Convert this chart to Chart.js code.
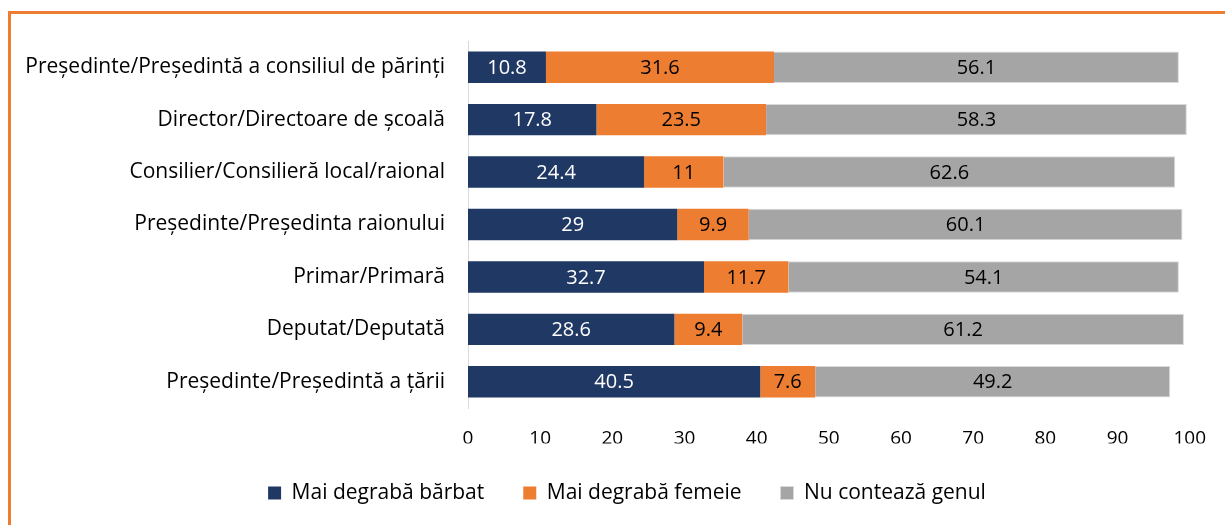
<!DOCTYPE html>
<html><head><meta charset="utf-8">
<script src="https://cdn.jsdelivr.net/npm/chart.js@4/dist/chart.umd.min.js"></script>
<style>
html,body{margin:0;padding:0;background:#fff;overflow:hidden;}
#wrap{position:relative;width:1225px;height:525px;}
#frame{position:absolute;left:8px;top:11px;width:1300px;height:600px;border:3px solid #ED7D31;box-sizing:border-box;}
canvas{position:absolute;left:0;top:0;}
</style></head><body>
<div id="wrap"><div id="frame"></div><canvas id="c" width="1225" height="525"></canvas></div>
<script>
const categories = [
  "Președinte/Președintă a consiliul de părinți",
  "Director/Directoare de școală",
  "Consilier/Consilieră local/raional",
  "Președinte/Președinta raionului",
  "Primar/Primară",
  "Deputat/Deputată",
  "Președinte/Președintă a țării"
];
const seriesNames = ["Mai degrabă bărbat", "Mai degrabă femeie", "Nu contează genul"];
const barbat = [10.8, 17.8, 24.4, 29, 32.7, 28.6, 40.5];
const femeie = [31.6, 23.5, 11, 9.9, 11.7, 9.4, 7.6];
const nuConteaza = [56.1, 58.3, 62.6, 60.1, 54.1, 61.2, 49.2];
const xTicks = [0, 10, 20, 30, 40, 50, 60, 70, 80, 90, 100];

const FONT = "'Open Sans', 'Noto Sans', sans-serif";
const labelColors = ["#FFFFFF", "#000000", "#000000"];

const valueLabels = {
  id: 'valueLabels',
  afterDatasetsDraw(chart) {
    const ctx = chart.ctx;
    ctx.save();
    ctx.font = "20px " + FONT;
    ctx.textAlign = "center";
    ctx.textBaseline = "middle";
    chart.data.datasets.forEach((ds, i) => {
      const meta = chart.getDatasetMeta(i);
      meta.data.forEach((el, j) => {
        const x = (el.x + el.base) / 2;
        ctx.fillStyle = labelColors[i];
        ctx.fillText(String(ds.data[j]), x, el.y + 1);
      });
    });
    ctx.restore();
  }
};

const legendShift = {
  id: 'legendShift',
  afterLayout(chart) {
    if (chart.legend) { chart.legend.left += 32; chart.legend.right += 32; }
  }
};

new Chart(document.getElementById('c'), {
  type: 'bar',
  data: {
    labels: categories,
    datasets: [
      {label: seriesNames[0], data: barbat, backgroundColor: '#203864', borderWidth: 0},
      {label: seriesNames[1], data: femeie, backgroundColor: '#ED7D31', borderWidth: 0},
      {label: seriesNames[2], data: nuConteaza, backgroundColor: '#A5A5A5', borderColor: '#D9D9D9', borderWidth: 1}
    ]
  },
  options: {
    indexAxis: 'y',
    responsive: false,
    animation: false,
    layout: {padding: {top: 41, right: 35, bottom: 11.5, left: 0}},
    datasets: {bar: {barPercentage: 0.6, categoryPercentage: 1.0}},
    scales: {
      x: {
        stacked: true, min: 0, max: 100,
        afterBuildTicks(scale) { scale.ticks = xTicks.map(v => ({value: v})); },
        grid: {display: false, drawTicks: false},
        border: {display: false},
        ticks: {font: {family: FONT, size: 19}, color: '#000', padding: 19, maxRotation: 0},
        afterFit(scale) { scale.height = 35.5; }
      },
      y: {
        stacked: true,
        grid: {display: false, drawTicks: false},
        border: {display: true, color: '#D9D9D9', width: 1},
        ticks: {font: {family: FONT, size: 21}, color: '#000', padding: 23},
        afterFit(scale) { scale.width = 468; }
      }
    },
    plugins: {
      legend: {
        position: 'bottom',
        labels: {font: {family: FONT, size: 21}, color: '#000', boxWidth: 13, boxHeight: 13, padding: 39, useBorderRadius: false}
      },
      tooltip: {enabled: false}
    }
  },
  plugins: [valueLabels, legendShift]
});
</script>
</body></html>
